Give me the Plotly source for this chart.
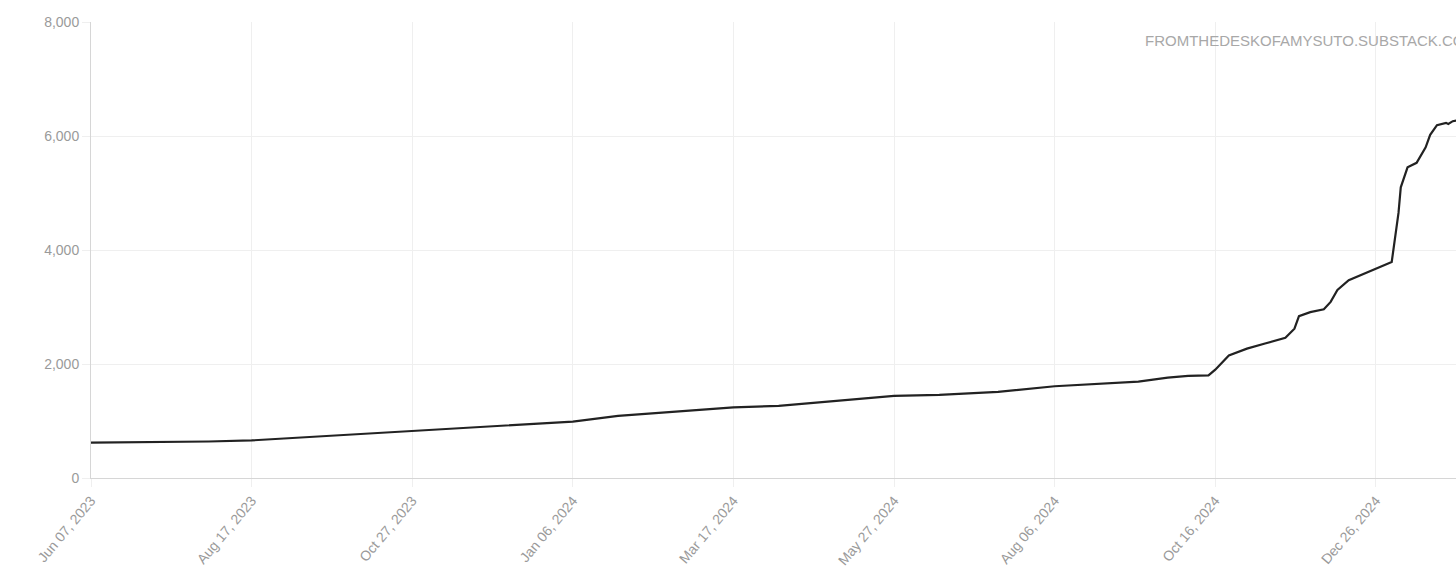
import plotly.graph_objects as go

dates = [
    "2023-06-07", "2023-06-27", "2023-06-30", "2023-07-29", "2023-08-17",
    "2023-09-07", "2023-09-29", "2023-10-27", "2023-11-26", "2024-01-06",
    "2024-01-26", "2024-02-22", "2024-03-17", "2024-04-06", "2024-04-28",
    "2024-05-16", "2024-05-27", "2024-06-16", "2024-07-12", "2024-08-06",
    "2024-08-25", "2024-09-12", "2024-09-25", "2024-10-04", "2024-10-13",
    "2024-10-16", "2024-10-22", "2024-10-30", "2024-11-07", "2024-11-16",
    "2024-11-20", "2024-11-22", "2024-11-27", "2024-12-03", "2024-12-06",
    "2024-12-09", "2024-12-14", "2024-12-26", "2025-01-02", "2025-01-05",
    "2025-01-06", "2025-01-09", "2025-01-13", "2025-01-17", "2025-01-19",
    "2025-01-22", "2025-01-26", "2025-01-27", "2025-01-29", "2025-02-03",
]
subscribers = [
    620, 630, 620, 640, 660,
    710, 750, 820, 890, 990,
    1090, 1170, 1240, 1265, 1340,
    1410, 1440, 1460, 1510, 1610,
    1650, 1690, 1760, 1790, 1800,
    1900, 2150, 2270, 2360, 2460,
    2620, 2840, 2910, 2960, 3090,
    3300, 3470, 3680, 3790, 4650,
    5100, 5450, 5530, 5800, 6020,
    6190, 6230, 6210, 6260, 6300,
]
y_ticks = [0, 2000, 4000, 6000, 8000]
watermark = "FROMTHEDESKOFAMYSUTO.SUBSTACK.COM"

fig = go.Figure()
fig.add_trace(go.Scatter(
    x=dates, y=subscribers, mode="lines",
    line=dict(color="#222222", width=2.2),
    hoverinfo="skip",
))

fig.update_layout(
    width=1456, height=581,
    margin=dict(l=91, r=0, t=22, b=103),
    paper_bgcolor="white", plot_bgcolor="white",
    showlegend=False,
    font=dict(family="Liberation Sans, Arial, sans-serif", color="#9a9a9a", size=14),
    xaxis=dict(
        range=["2023-06-07", "2025-01-30 10:00"],
        tickmode="linear", tick0="2023-06-07", dtick=71 * 86400000,
        tickformat="%b %d, %Y", tickangle=-50,
        showgrid=True, gridcolor="#efefef", gridwidth=1,
        ticks="outside", ticklen=8, tickcolor="#efefef",
        showline=True, linecolor="#d6d6d6", linewidth=1,
        zeroline=False,
        tickfont=dict(size=14, color="#9a9a9a"),
    ),
    yaxis=dict(
        range=[0, 8000], tickvals=y_ticks, tickformat=",",
        showgrid=True, gridcolor="#efefef", gridwidth=1,
        ticks="outside", ticklen=8, tickcolor="#efefef",
        showline=True, linecolor="#d6d6d6", linewidth=1,
        zeroline=False,
        tickfont=dict(size=14, color="#9a9a9a"),
    ),
    annotations=[dict(
        text=watermark, xref="paper", yref="paper",
        x=(1143 - 91) / 1365, y=(478 - 40) / 456,
        xanchor="left", yanchor="middle", showarrow=False,
        font=dict(size=15, color="#a8a8a8", family="Liberation Sans, Arial, sans-serif"),
    )],
)

fig.write_html(
    "out.html",
    config={"displayModeBar": False},
    post_script="document.body.style.margin='0';document.body.style.overflow='hidden';",
)
